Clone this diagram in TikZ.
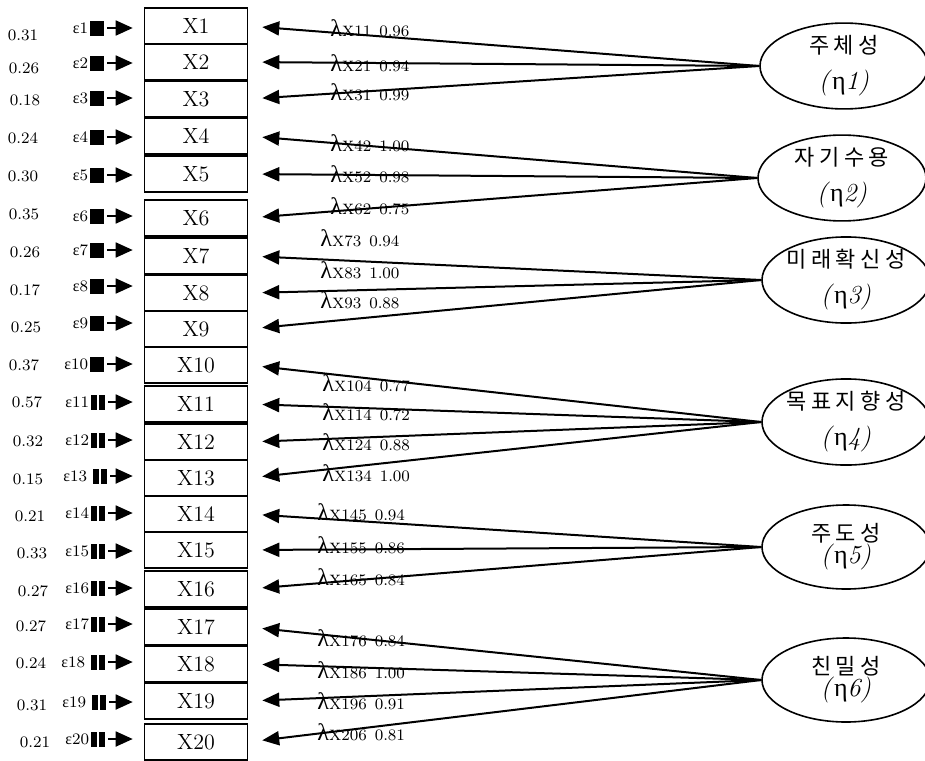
\documentclass[tikz,border=0pt]{standalone}
\usepackage{fontspec}
\newfontfamily\krfont[LetterSpace=20]{Noto Sans CJK KR}
\newfontfamily\grfont{Liberation Serif}
\usetikzlibrary{shapes,arrows.meta,positioning}

\tikzset{
  obsbox/.style={draw,line width=0.8pt,minimum width=51.5pt,minimum height=18pt,inner sep=0pt,font=\fontsize{11}{13}\selectfont},
  errsq/.style={fill=black,minimum width=7pt,minimum height=7.5pt,inner sep=0pt},
  errbar/.style={errsq,path picture={\draw[white,line width=1pt] (path picture bounding box.north) -- (path picture bounding box.south);}},
  epslab/.style={font=\footnotesize,inner sep=0.5pt},
  varlab/.style={font=\footnotesize,inner sep=0pt},
  lamlab/.style={anchor=west,inner sep=0pt},
  latent/.style={draw,ellipse,line width=0.8pt,minimum width=84pt,minimum height=42pt,inner sep=0pt,align=center,font=\fontsize{11}{13}\selectfont},
  load/.style={-{Triangle[length=8.5pt,width=7pt]},line width=1pt,shorten >=7pt},
  errarr/.style={-{Triangle[length=8.5pt,width=7.5pt]},line width=0.9pt,shorten <=1.5pt,shorten >=5.5pt}
}
\newcommand{\lamx}[2]{{\grfont\large λ}\textsc{x}{\footnotesize#1\enspace#2}}
\newcommand{\etalab}[1]{{\fontsize{13}{15}\selectfont\textit{(}{\grfont η}\textit{#1)}}}
\newcommand{\epsx}[1]{{\grfont ε}#1}

\begin{document}
\begin{tikzpicture}[x=0.5pt,y=-0.5pt]
\useasboundingbox (0,0) rectangle (925,760);

% observed variables with error terms
\node[obsbox] at (196,26) (box1){X1};
\node[errsq] at (97,28) (err1){};
\node[epslab,left=0pt of err1] (eps1){\epsx{1}};
\node[varlab] at (23,35) (var1){0.31};
\node[obsbox] at (196,62) (box2){X2};
\node[errsq] at (97,63) (err2){};
\node[epslab,left=0pt of err2] (eps2){\epsx{2}};
\node[varlab] at (24,68) (var2){0.26};
\node[obsbox] at (196,99) (box3){X3};
\node[errsq] at (97,98) (err3){};
\node[epslab,left=0pt of err3] (eps3){\epsx{3}};
\node[varlab] at (25,100) (var3){0.18};
\node[obsbox] at (196,136) (box4){X4};
\node[errsq] at (97,137) (err4){};
\node[epslab,left=0pt of err4] (eps4){\epsx{4}};
\node[varlab] at (23,138) (var4){0.24};
\node[obsbox] at (196,174) (box5){X5};
\node[errsq] at (97,175) (err5){};
\node[epslab,left=0pt of err5] (eps5){\epsx{5}};
\node[varlab] at (23,176) (var5){0.30};
\node[obsbox] at (196,218) (box6){X6};
\node[errsq] at (97,216) (err6){};
\node[epslab,left=0pt of err6] (eps6){\epsx{6}};
\node[varlab] at (24,214) (var6){0.35};
\node[obsbox] at (196,256) (box7){X7};
\node[errsq] at (97,250) (err7){};
\node[epslab,left=0pt of err7] (eps7){\epsx{7}};
\node[varlab] at (25,252) (var7){0.26};
\node[obsbox] at (196,293) (box8){X8};
\node[errsq] at (97,286) (err8){};
\node[epslab,left=0pt of err8] (eps8){\epsx{8}};
\node[varlab] at (25,290) (var8){0.17};
\node[obsbox] at (196,329) (box9){X9};
\node[errsq] at (97,323) (err9){};
\node[epslab,left=0pt of err9] (eps9){\epsx{9}};
\node[varlab] at (26,327) (var9){0.25};
\node[obsbox] at (196,365) (box10){X10};
\node[errsq] at (97,364) (err10){};
\node[epslab,left=0pt of err10] (eps10){\epsx{10}};
\node[varlab] at (24,365) (var10){0.37};
\node[obsbox] at (196,404) (box11){X11};
\node[errbar] at (98,402) (err11){};
\node[epslab,left=0pt of err11] (eps11){\epsx{11}};
\node[varlab] at (27,402) (var11){0.57};
\node[obsbox] at (196,442) (box12){X12};
\node[errbar] at (98,440) (err12){};
\node[epslab,left=0pt of err12] (eps12){\epsx{12}};
\node[varlab] at (28,441) (var12){0.32};
\node[obsbox] at (196,478) (box13){X13};
\node[errbar] at (100,476) (err13){};
\node[epslab,left=2pt of err13] (eps13){\epsx{13}};
\node[varlab] at (28,479) (var13){0.15};
\node[obsbox] at (196,514) (box14){X14};
\node[errbar] at (98,513) (err14){};
\node[epslab,left=0pt of err14] (eps14){\epsx{14}};
\node[varlab] at (30,516) (var14){0.21};
\node[obsbox] at (196,550) (box15){X15};
\node[errbar] at (98,551) (err15){};
\node[epslab,left=0pt of err15] (eps15){\epsx{15}};
\node[varlab] at (32,553) (var15){0.33};
\node[obsbox] at (196,589) (box16){X16};
\node[errbar] at (98,588) (err16){};
\node[epslab,left=0pt of err16] (eps16){\epsx{16}};
\node[varlab] at (33,591) (var16){0.27};
\node[obsbox] at (196,627) (box17){X17};
\node[errbar] at (98,624) (err17){};
\node[epslab,left=0pt of err17] (eps17){\epsx{17}};
\node[varlab] at (31,626) (var17){0.27};
\node[obsbox] at (196,664) (box18){X18};
\node[errbar] at (98,662) (err18){};
\node[epslab,left=2pt of err18] (eps18){\epsx{18}};
\node[varlab] at (31,663) (var18){0.24};
\node[obsbox] at (196,701) (box19){X19};
\node[errbar] at (99,702) (err19){};
\node[epslab,left=2pt of err19] (eps19){\epsx{19}};
\node[varlab] at (32,705) (var19){0.31};
\node[obsbox] at (196,742) (box20){X20};
\node[errbar] at (98,739) (err20){};
\node[epslab,left=0pt of err20] (eps20){\epsx{20}};
\node[varlab] at (35,742) (var20){0.21};

\draw[errarr] (err1.east) -- (err1.east -| box1.west);
\draw[errarr] (err2.east) -- (err2.east -| box2.west);
\draw[errarr] (err3.east) -- (err3.east -| box3.west);
\draw[errarr] (err4.east) -- (err4.east -| box4.west);
\draw[errarr] (err5.east) -- (err5.east -| box5.west);
\draw[errarr] (err6.east) -- (err6.east -| box6.west);
\draw[errarr] (err7.east) -- (err7.east -| box7.west);
\draw[errarr] (err8.east) -- (err8.east -| box8.west);
\draw[errarr] (err9.east) -- (err9.east -| box9.west);
\draw[errarr] (err10.east) -- (err10.east -| box10.west);
\draw[errarr] (err11.east) -- (err11.east -| box11.west);
\draw[errarr] (err12.east) -- (err12.east -| box12.west);
\draw[errarr] (err13.east) -- (err13.east -| box13.west);
\draw[errarr] (err14.east) -- (err14.east -| box14.west);
\draw[errarr] (err15.east) -- (err15.east -| box15.west);
\draw[errarr] (err16.east) -- (err16.east -| box16.west);
\draw[errarr] (err17.east) -- (err17.east -| box17.west);
\draw[errarr] (err18.east) -- (err18.east -| box18.west);
\draw[errarr] (err19.east) -- (err19.east -| box19.west);
\draw[errarr] (err20.east) -- (err20.east -| box20.west);

% latent factors
\node[latent] at (844,66) (eta1){{\krfont 주체성}\\[5pt]\etalab{1}};
\node[latent] at (842,178) (eta2){{\krfont 자기수용}\\[5pt]\etalab{2}};
\node[latent] at (846,280) (eta3){{\krfont 미래확신성}\\[5pt]\etalab{3}};
\node[latent] at (846,422) (eta4){{\krfont 목표지향성}\\[5pt]\etalab{4}};
\node[latent] at (846,547) (eta5){{\krfont 주도성}\\[-2pt]\etalab{5}};
\node[latent] at (846,680) (eta6){{\krfont 친밀성}\\[-2pt]\etalab{6}};

\draw[load] (eta1.west) -- (box1.east);
\draw[load] (eta1.west) -- (box2.east);
\draw[load] (eta1.west) -- (box3.east);
\draw[load] (eta2.west) -- (box4.east);
\draw[load] (eta2.west) -- (box5.east);
\draw[load] (eta2.west) -- (box6.east);
\draw[load] (eta3.west) -- (box7.east);
\draw[load] (eta3.west) -- (box8.east);
\draw[load] (eta3.west) -- (box9.east);
\draw[load] (eta4.west) -- (box10.east);
\draw[load] (eta4.west) -- (box11.east);
\draw[load] (eta4.west) -- (box12.east);
\draw[load] (eta4.west) -- (box13.east);
\draw[load] (eta5.west) -- (box14.east);
\draw[load] (eta5.west) -- (box15.east);
\draw[load] (eta5.west) -- (box16.east);
\draw[load] (eta6.west) -- (box17.east);
\draw[load] (eta6.west) -- (box18.east);
\draw[load] (eta6.west) -- (box19.east);
\draw[load] (eta6.west) -- (box20.east);

% loadings
\node[lamlab] at (330,28) (lam1){\lamx{11}{0.96}};
\node[lamlab] at (330,63) (lam2){\lamx{21}{0.94}};
\node[lamlab] at (330,92) (lam3){\lamx{31}{0.99}};
\node[lamlab] at (330,143) (lam4){\lamx{42}{1.00}};
\node[lamlab] at (330,174) (lam5){\lamx{52}{0.98}};
\node[lamlab] at (330,206) (lam6){\lamx{62}{0.75}};
\node[lamlab] at (320,238) (lam7){\lamx{73}{0.94}};
\node[lamlab] at (320,270) (lam8){\lamx{83}{1.00}};
\node[lamlab] at (320,300) (lam9){\lamx{93}{0.88}};
\node[lamlab] at (322,383) (lam10){\lamx{104}{0.77}};
\node[lamlab] at (322,412) (lam11){\lamx{114}{0.72}};
\node[lamlab] at (322,442) (lam12){\lamx{124}{0.88}};
\node[lamlab] at (322,473) (lam13){\lamx{134}{1.00}};
\node[lamlab] at (317,512) (lam14){\lamx{145}{0.94}};
\node[lamlab] at (317,545) (lam15){\lamx{155}{0.86}};
\node[lamlab] at (317,577) (lam16){\lamx{165}{0.84}};
\node[lamlab] at (317,638) (lam17){\lamx{176}{0.84}};
\node[lamlab] at (317,670) (lam18){\lamx{186}{1.00}};
\node[lamlab] at (317,701) (lam19){\lamx{196}{0.91}};
\node[lamlab] at (317,732) (lam20){\lamx{206}{0.81}};

\end{tikzpicture}
\end{document}
